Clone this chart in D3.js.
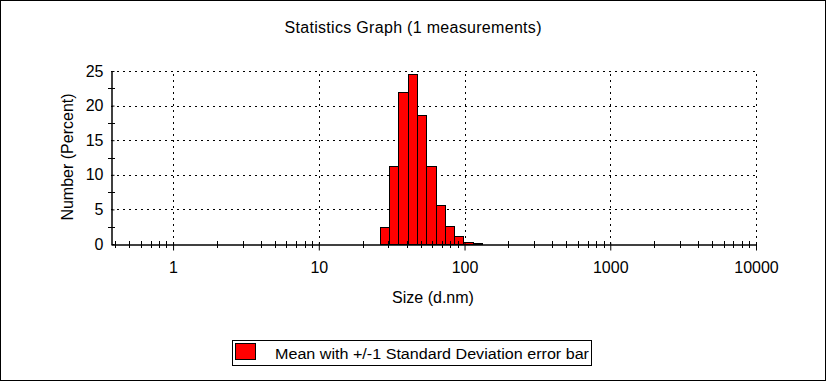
<!DOCTYPE html>
<html>
<head>
<meta charset="utf-8">
<script src="https://cdn.jsdelivr.net/npm/d3@7"></script>
<style>
  body { margin: 0; background: #fff; }
  svg { display: block; font-family: "Liberation Sans", Arial, sans-serif; }
</style>
</head>
<body>
<div id="chart"></div>
<script>
// size classes (d.nm) and number distribution (%)
const sizes = [24.36, 28.21, 32.67, 37.84, 43.82, 50.75, 58.77, 68.06, 78.82, 91.28, 105.7, 122.4, 141.8];
const numberPct = [0, 2.4, 11.2, 22.0, 24.5, 18.6, 11.2, 5.7, 2.6, 1.1, 0.3, 0.12, 0];
const xTicks = [1, 10, 100, 1000, 10000];
const yTicks = [0, 5, 10, 15, 20, 25];
const titleText = "Statistics Graph (1 measurements)";
const legendText = "Mean with +/-1 Standard Deviation error bar";

const W = 828, H = 383;
const PLOT = { left: 111, right: 756, top: 71, bottom: 244 };

let svg = d3.select("#chart").append("svg")
    .attr("width", W)
    .attr("height", H);

// outer frame
svg.append("rect")
    .attr("x", 0.5).attr("y", 0.5)
    .attr("width", 825).attr("height", 380)
    .attr("fill", "#fff")
    .attr("stroke", "#000");

let x = d3.scaleLog()
    .domain([0.375, 10000])
    .range([PLOT.left, PLOT.right]);
let y = d3.scaleLinear()
    .domain([0, 25])
    .range([PLOT.bottom, PLOT.top]);

// dotted grid
let grid = svg.append("g")
    .attr("stroke", "#000")
    .attr("stroke-width", 1)
    .attr("stroke-dasharray", "2,4");
grid.selectAll("line.h")
    .data(yTicks.filter(d => d > 0))
    .enter().append("line")
    .attr("x1", PLOT.left).attr("x2", PLOT.right)
    .attr("y1", d => Math.round(y(d)) + 0.5)
    .attr("y2", d => Math.round(y(d)) + 0.5);
grid.selectAll("line.v")
    .data(xTicks)
    .enter().append("line")
    .attr("y1", PLOT.bottom).attr("y2", PLOT.top)
    .attr("x1", d => Math.round(x(d)) + 0.5)
    .attr("x2", d => Math.round(x(d)) + 0.5);

// bars, edges at geometric midpoints between size classes
let step = Math.sqrt(sizes[1] / sizes[0]);
svg.append("g")
    .selectAll("rect")
    .data(sizes.map((s, i) => ({ size: s, value: numberPct[i] })).filter(d => d.value > 0))
    .enter().append("rect")
    .attr("x", d => Math.round(x(d.size / step)) + 0.5)
    .attr("width", d => Math.round(x(d.size * step)) - Math.round(x(d.size / step)))
    .attr("y", d => Math.round(y(d.value)) + 0.5)
    .attr("height", d => Math.round(y(0)) - Math.round(y(d.value)))
    .attr("fill", "#ff0000")
    .attr("stroke", "#000")
    .attr("stroke-width", 1);

// x axis: major ticks labelled, minor ticks crossing the line
let xAxis = d3.axisBottom(x)
    .tickValues(xTicks)
    .tickSize(6)
    .tickSizeOuter(0)
    .tickPadding(11)
    .tickFormat(d3.format("d"));
let gx = svg.append("g")
    .attr("transform", "translate(0," + (PLOT.bottom + 0.5) + ")")
    .call(xAxis);
gx.select(".domain").attr("stroke", "#000").attr("stroke-width", 1.5);
gx.selectAll(".tick line").attr("y1", -2);
gx.selectAll(".tick text").attr("font-size", 16).attr("fill", "#000");

let minorX = [];
for (let p = -1; p < 4; p++) {
    for (let m = 2; m < 10; m++) {
        let v = m * Math.pow(10, p);
        if (v >= 0.375 && v <= 10000) minorX.push(v);
    }
}
svg.append("g").selectAll("line")
    .data(minorX)
    .enter().append("line")
    .attr("x1", d => Math.round(x(d)) + 0.5)
    .attr("x2", d => Math.round(x(d)) + 0.5)
    .attr("y1", PLOT.bottom - 3)
    .attr("y2", PLOT.bottom + 4)
    .attr("stroke", "#000");

// y axis
let yAxis = d3.axisLeft(y)
    .tickValues(yTicks)
    .tickSize(3)
    .tickSizeOuter(0)
    .tickPadding(5);
let gy = svg.append("g")
    .attr("transform", "translate(" + (PLOT.left + 0.5) + ",0)")
    .call(yAxis);
gy.select(".domain").attr("stroke", "#000").attr("stroke-width", 1.5);
gy.selectAll(".tick line").attr("x2", 3);
gy.selectAll(".tick text").attr("font-size", 16).attr("fill", "#000");

let minorY = [2.5, 7.5, 12.5, 17.5, 22.5];
svg.append("g").selectAll("line")
    .data(minorY)
    .enter().append("line")
    .attr("x1", PLOT.left - 3).attr("x2", PLOT.left + 4)
    .attr("y1", d => Math.round(y(d)) + 0.5)
    .attr("y2", d => Math.round(y(d)) + 0.5)
    .attr("stroke", "#000");

// titles
svg.append("text")
    .attr("x", 413).attr("y", 33)
    .attr("text-anchor", "middle")
    .attr("font-size", 16)
    .attr("textLength", 257)
    .attr("lengthAdjust", "spacing")
    .text(titleText);
svg.append("text")
    .attr("x", 433).attr("y", 303)
    .attr("text-anchor", "middle")
    .attr("font-size", 16)
    .text("Size (d.nm)");
svg.append("text")
    .attr("transform", "translate(73,157) rotate(-90)")
    .attr("text-anchor", "middle")
    .attr("font-size", 16)
    .text("Number (Percent)");

// legend
let legend = svg.append("g");
legend.append("rect")
    .attr("x", 232.5).attr("y", 340.5)
    .attr("width", 359).attr("height", 25)
    .attr("fill", "#fff").attr("stroke", "#000");
legend.append("rect")
    .attr("x", 235.5).attr("y", 343.5)
    .attr("width", 20).attr("height", 16)
    .attr("fill", "#ff0000").attr("stroke", "#000");
legend.append("text")
    .attr("x", 275).attr("y", 359)
    .attr("font-size", 15.2)
    .attr("textLength", 314)
    .attr("lengthAdjust", "spacingAndGlyphs")
    .text(legendText);
</script>
</body>
</html>
